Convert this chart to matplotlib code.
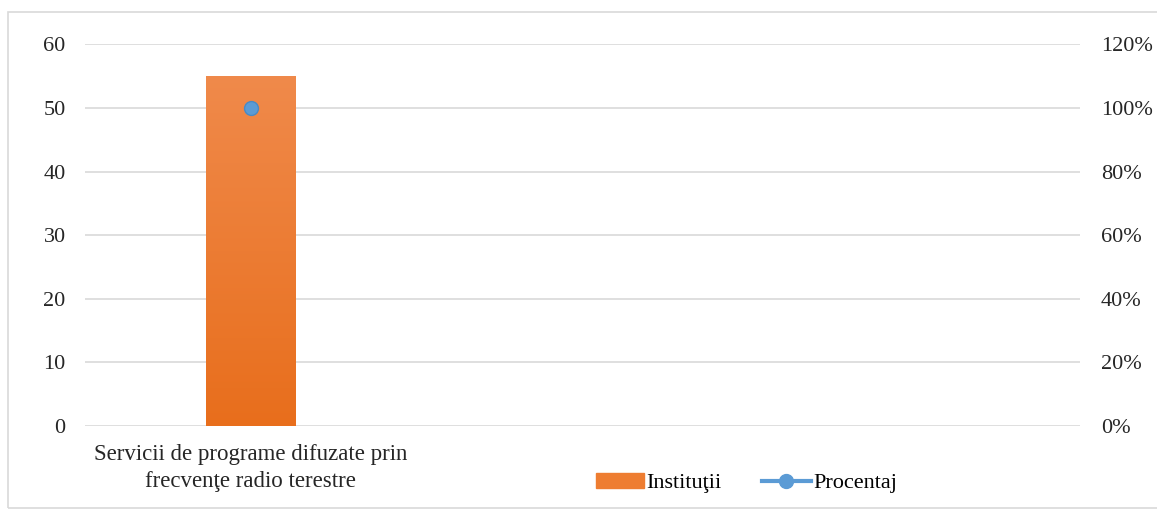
import numpy as np
import matplotlib.pyplot as plt
from matplotlib.patches import Rectangle
from matplotlib.lines import Line2D
from matplotlib.ticker import PercentFormatter
from matplotlib.colors import LinearSegmentedColormap

# data
categories = ['Servicii de programe difuzate prin\nfrecvenţe radio terestre', '', '']
institutii = [55, np.nan, np.nan]
procentaj = [1.00, np.nan, np.nan]

plt.rcParams['font.family'] = ['Liberation Serif', 'DejaVu Serif']

fig = plt.figure(figsize=(11.57, 5.14), dpi=100)
ax = fig.add_axes([0.0735, 0.171, 0.86, 0.743])

# outer frame of the chart
fig.patches.append(Rectangle((0.007, 0.012), 1.2, 0.965, transform=fig.transFigure,
                             fill=False, edgecolor='#d9d9d9', linewidth=1.2))

x = np.arange(len(categories))
bars = ax.bar(x, institutii, width=0.27, color='#EE7D31', zorder=2)

# vertical gradient on the bars
grad = np.linspace(0, 1, 256).reshape(-1, 1)
cmap = LinearSegmentedColormap.from_list('o', ['#E86E1C', '#F08A4B'])
for b in bars:
    h = b.get_height()
    if np.isnan(h):
        continue
    im = ax.imshow(grad, cmap=cmap, origin='lower', aspect='auto', zorder=2.5,
                   extent=[b.get_x(), b.get_x() + b.get_width(), 0, h])
    im.set_clip_path(b)

ax.set_xlim(-0.5, len(categories) - 0.5)
ax.set_ylim(0, 60)
ax.set_yticks(range(0, 61, 10))
ax.yaxis.grid(True, color='#d9d9d9', linewidth=1.2, zorder=0)
ax.set_axisbelow(True)
for s in ax.spines.values():
    s.set_visible(False)
ax.tick_params(axis='both', length=0, labelsize=16, colors='#262626')
ax.tick_params(axis='y', pad=14)
ax.set_xticks(x)
ax.set_xticklabels(categories, fontsize=16.5, linespacing=1.35)
ax.tick_params(axis='x', pad=13)

ax2 = ax.twinx()
ax2.plot(x, procentaj, color='#5B9BD5', marker='o', markersize=10, linewidth=3,
         markeredgecolor='#4A8AC4', zorder=5)
ax2.set_ylim(0, 1.2)
ax2.set_yticks(np.arange(0, 1.21, 0.2))
ax2.yaxis.set_major_formatter(PercentFormatter(1.0, decimals=0))
for s in ax2.spines.values():
    s.set_visible(False)
ax2.tick_params(axis='y', length=0, labelsize=16, colors='#262626', pad=15)

handles = [Rectangle((0, 0), 1, 1, color='#EE7D31'),
           Line2D([0], [0], color='#5B9BD5', marker='o', markersize=10, linewidth=3)]
fig.legend(handles, ['Instituţii', 'Procentaj'], loc='center', bbox_to_anchor=(0.645, 0.06),
           ncol=2, frameon=False, fontsize=16, handlelength=2.2, handletextpad=0.1,
           columnspacing=1.8)

fig.savefig('out.png', dpi=100)
